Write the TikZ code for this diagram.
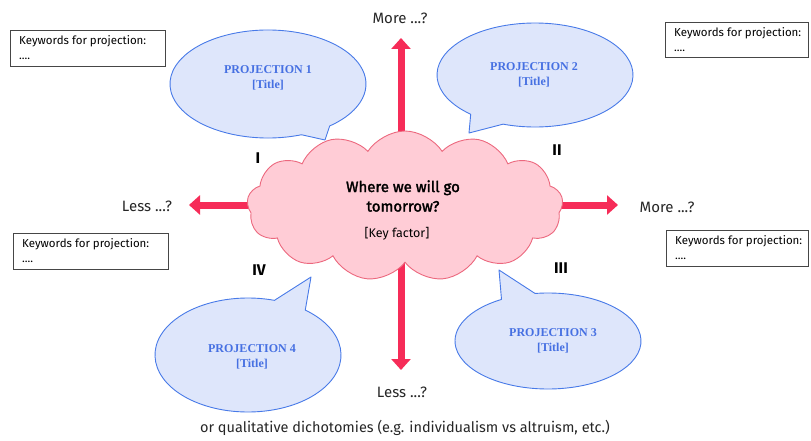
\documentclass[tikz,border=0pt]{standalone}
\usepackage{fontspec}
\setmainfont{Liberation Serif}
\setsansfont{Fira Sans}
\newfontfamily\cloudfont{Fira Sans}[FakeBold=2]
\usetikzlibrary{arrows.meta,shapes.symbols}
\definecolor{axisred}{RGB}{246,44,88}
\definecolor{cloudfill}{RGB}{255,204,214}
\definecolor{clouddraw}{RGB}{236,104,126}
\definecolor{bubblefill}{RGB}{222,230,251}
\definecolor{bubbledraw}{RGB}{72,122,232}
\definecolor{bubbletext}{RGB}{70,112,226}
\definecolor{boxdraw}{RGB}{70,70,70}
\tikzset{
  axisarrow/.style={draw=axisred,line width=7pt,{Triangle[width=19pt,length=11pt]}-{Triangle[width=19pt,length=11pt]}},
  bubble/.style={fill=bubblefill,draw=bubbledraw,line width=0.9pt,line join=round},
  bubbletitle/.style={text=bubbletext,font=\rmfamily\bfseries\fontsize{12}{15}\selectfont,align=center},
  keybox/.style={draw=boxdraw,line width=0.9pt,minimum width=#1,minimum height=36pt,
    inner sep=0pt,anchor=north west},
  keytext/.style={font=\sffamily\fontsize{11.5}{15}\selectfont,align=left,anchor=north west,inner sep=0pt},
  axislabel/.style={font=\sffamily\fontsize{15}{17}\selectfont,text=black!85},
  quadrant/.style={font=\sffamily\bfseries\fontsize{15.5}{18}\selectfont}
}
\begin{document}
\begin{tikzpicture}[x=1pt,y=-1pt]
\useasboundingbox (0,0) rectangle (811,441);

% axes
\coordinate (up) at (401,38);
\coordinate (down) at (401,370);
\coordinate (left) at (189,205);
\coordinate (right) at (618,205);
\draw[axisarrow] (down) -- (up);
\draw[axisarrow] (left) -- (right);

% central cloud
\node[cloud,cloud puffs=13,cloud puff arc=115,aspect=2.1,minimum width=316pt,minimum height=150pt,
  inner sep=0pt,fill=cloudfill,draw=clouddraw,line width=0.9pt] (cloud) at (405,206) {};
\node[font=\cloudfont\fontsize{15}{19.5}\selectfont,align=center] (question) at (403,196)
  {Where we will go\\tomorrow?};
\node[font=\sffamily\fontsize{12.5}{14}\selectfont] (keyfactor) at (397,234) {[Key factor]};

% axis labels
\node[axislabel] (moreup) at (400,18) {More ...?};
\node[axislabel] (lessdown) at (402,392) {Less ...?};
\node[axislabel] (lessleft) at (147,206) {Less ...?};
\node[axislabel] (moreright) at (667,207) {More ...?};

% quadrant numerals
\node[quadrant] (qI) at (258,158) {I};
\node[quadrant] (qII) at (557,150) {II};
\node[quadrant] (qIII) at (561,268) {III};
\node[quadrant] (qIV) at (259,270) {IV};

% speech bubbles
\draw[bubble] (268,84) ++(70:98 and 54) coordinate (b1s)
  arc[start angle=70,end angle=411,x radius=98,y radius=54] -- (325,140) coordinate (b1tip) -- cycle;
\draw[bubble] (535,75) ++(131:98 and 52) coordinate (b2s)
  arc[start angle=131,end angle=469,x radius=98,y radius=52] -- (469,133) coordinate (b2tip) -- cycle;
\draw[bubble] (548,341) ++(262:93 and 48) coordinate (b3s)
  arc[start angle=262,end angle=600,x radius=93,y radius=48] -- (499,270) coordinate (b3tip) -- cycle;
\draw[bubble] (248,355) ++(308:93 and 57) coordinate (b4s)
  arc[start angle=308,end angle=646.5,x radius=93,y radius=57] -- (311,277) coordinate (b4tip) -- cycle;

\node[bubbletitle] (p1) at (268,78) {PROJECTION 1\\{}[Title]};
\node[bubbletitle] (p2) at (534,75) {PROJECTION 2\\{}[Title]};
\node[bubbletitle] (p3) at (553,341) {PROJECTION 3\\{}[Title]};
\node[bubbletitle] (p4) at (252,357) {PROJECTION 4\\{}[Title]};

% keyword boxes
\node[keybox=155pt] (k1) at (10,30) {};
\node[keytext] (k1t) at (19,35) {Keywords for projection:\\....};
\node[keybox=143pt,minimum height=35pt] (k2) at (665,22) {};
\node[keytext] (k2t) at (674,27) {Keywords for projection:\\....};
\node[keybox=155pt] (k3) at (13,233) {};
\node[keytext] (k3t) at (22,238) {Keywords for projection:\\....};
\node[keybox=142pt] (k4) at (666,230) {};
\node[keytext] (k4t) at (675,235) {Keywords for projection:\\....};

% footer
\node[font=\sffamily\fontsize{14.5}{16}\selectfont,text=black!85] (footer) at (405,428)
  {or qualitative dichotomies (e.g. individualism vs altruism, etc.)};
\end{tikzpicture}
\end{document}
